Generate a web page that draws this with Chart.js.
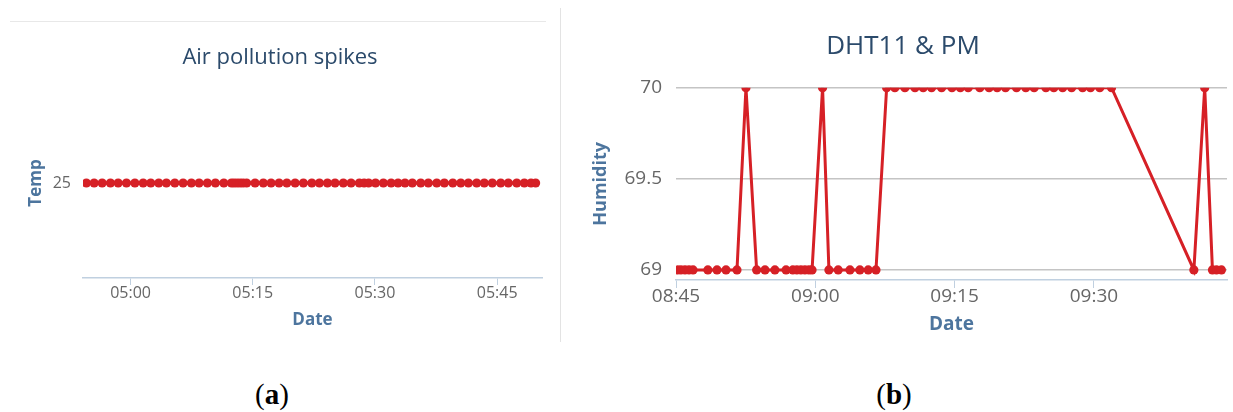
<!DOCTYPE html>
<html lang="en">
<head>
    <meta charset="UTF-8">
    <title>Air pollution spikes / DHT11 &amp; PM</title>
    <script src="https://cdn.jsdelivr.net/npm/chart.js"></script>
    <style>
        body {
            margin: 0;
            background: #fff;
            font-family: 'Open Sans', sans-serif;
        }
        .page {
            position: relative;
            width: 1233px;
            height: 412px;
            overflow: hidden;
        }
        #tempChart { position: absolute; left: 0; top: 0; }
        #humChart { position: absolute; left: 565px; top: 0; }
        .topline {
            position: absolute;
            left: 10px; top: 21px;
            width: 536px; height: 1px;
            background: #e8e8e8;
        }
        .divider {
            position: absolute;
            left: 560px; top: 8px;
            width: 1px; height: 334px;
            background: #e3e3e3;
        }
        .caption {
            position: absolute;
            top: 377px;
            width: 80px;
            margin-left: -40px;
            text-align: center;
            font-family: 'Liberation Serif', serif;
            font-size: 29px;
            line-height: 34px;
            color: #000;
        }
    </style>
</head>
<body>
<div class="page">
    <div class="topline"></div>
    <div class="divider"></div>
    <canvas id="tempChart" width="560" height="350"></canvas>
    <canvas id="humChart" width="668" height="350"></canvas>
    <div class="caption" style="left:272px">(<b>a</b>)</div>
    <div class="caption" style="left:894px">(<b>b</b>)</div>
</div>

<script>
    // (a) temperature readings, all at 25
    const tempTimes = ['04:54:35', '04:55:32', '04:56:31', '04:57:32', '04:58:29', '04:59:30', '05:00:32', '05:01:33',
        '05:02:29', '05:03:28', '05:04:24', '05:05:26', '05:06:27', '05:07:28', '05:08:25', '05:09:26', '05:10:25',
        '05:11:27', '05:12:23', '05:12:43', '05:13:05', '05:13:27', '05:13:49', '05:14:15', '05:15:17', '05:16:18',
        '05:17:15', '05:18:14', '05:19:11', '05:20:12', '05:21:13', '05:22:15', '05:23:11', '05:24:10', '05:25:06',
        '05:26:07', '05:27:04', '05:28:05', '05:28:40', '05:29:13', '05:30:04', '05:31:02', '05:31:59', '05:32:50',
        '05:33:41', '05:34:35', '05:35:37', '05:36:33', '05:37:35', '05:38:31', '05:39:33', '05:40:32', '05:41:28',
        '05:42:29', '05:43:25', '05:44:24', '05:45:26', '05:46:22', '05:47:24', '05:48:20', '05:49:09', '05:49:43'];
    const tempValues = [25, 25, 25, 25, 25, 25, 25, 25, 25, 25, 25, 25, 25, 25, 25, 25, 25, 25, 25, 25, 25,
        25, 25, 25, 25, 25, 25, 25, 25, 25, 25, 25, 25, 25, 25, 25, 25, 25, 25, 25, 25, 25,
        25, 25, 25, 25, 25, 25, 25, 25, 25, 25, 25, 25, 25, 25, 25, 25, 25, 25, 25, 25];
    const tempXTicks = ['05:00', '05:15', '05:30', '05:45'];
    const tempXRange = ['04:54:10', '05:50:30'];
    const tempYTicks = [25];

    // (b) humidity readings
    const humTimes = ['08:45:10', '08:45:32', '08:45:58', '08:46:24', '08:46:50', '08:48:26', '08:49:25', '08:50:23',
        '08:51:34', '08:52:32', '08:53:41', '08:54:35', '08:55:39', '08:56:51', '08:57:35', '08:58:01', '08:58:27',
        '08:58:53', '08:59:19', '08:59:39', '09:00:47', '09:01:28', '09:02:28', '09:03:44', '09:04:48', '09:05:42',
        '09:06:32', '09:07:41', '09:08:34', '09:09:39', '09:10:44', '09:11:37', '09:12:31', '09:13:36', '09:14:43',
        '09:15:37', '09:16:28', '09:17:43', '09:18:43', '09:19:35', '09:20:29', '09:21:40', '09:22:40', '09:23:34',
        '09:24:50', '09:25:41', '09:26:38', '09:27:36', '09:28:47', '09:29:38', '09:30:38', '09:31:54', '09:40:46',
        '09:41:56', '09:42:46', '09:43:12', '09:43:44'];
    const humValues = [69, 69, 69, 69, 69, 69, 69, 69, 69, 70,
        69, 69, 69, 69, 69, 69, 69, 69, 69, 69, 70,
        69, 69, 69, 69, 69, 69,
        70, 70, 70, 70, 70, 70, 70, 70, 70, 70, 70, 70, 70, 70, 70, 70, 70, 70, 70, 70, 70, 70, 70, 70, 70,
        69, 70, 69, 69, 69];
    const humXTicks = ['08:45', '09:00', '09:15', '09:30'];
    const humXRange = ['08:45:00', '09:44:20'];
    const humYTicks = [69, 69.5, 70];

    const red = 'rgb(214, 32, 38)';
    const titleColor = '#2b4a6b';
    const axisTitleColor = '#4d759e';
    const tickColor = '#666666';
    const axisLineColor = '#c0d0e0';

    Chart.defaults.font.family = "'Open Sans', sans-serif";

    function toMin(t) {
        const p = t.split(':').map(Number);
        return p[0] * 60 + p[1] + (p[2] || 0) / 60;
    }
    function fmt(v) {
        const h = Math.floor(v / 60);
        const m = Math.round(v - h * 60);
        return String(h).padStart(2, '0') + ':' + String(m).padStart(2, '0');
    }
    function points(times, values) {
        return times.map((t, i) => ({ x: toMin(t), y: values[i] }));
    }
    function fixTicks(list) {
        return scale => { scale.ticks = list.map(v => ({ value: v })); };
    }

    const lineStyle = {
        borderColor: red,
        backgroundColor: red,
        borderWidth: 3,
        pointRadius: 4.6,
        pointBorderWidth: 0,
        pointBackgroundColor: red,
        tension: 0
    };

    new Chart(document.getElementById('tempChart'), {
        type: 'line',
        data: { datasets: [Object.assign({ label: 'Temp', data: points(tempTimes, tempValues) }, lineStyle)] },
        options: {
            responsive: false,
            animation: false,
            layout: { padding: { left: 18, right: 18, top: 0, bottom: 16 } },
            plugins: {
                legend: { display: false },
                tooltip: { enabled: false },
                title: {
                    display: true,
                    text: 'Air pollution spikes',
                    color: titleColor,
                    font: { size: 22, weight: 'normal', lineHeight: 1.2 },
                    padding: { top: 44.8, bottom: 16.8 }
                }
            },
            scales: {
                x: {
                    type: 'linear',
                    min: toMin(tempXRange[0]),
                    max: toMin(tempXRange[1]),
                    afterBuildTicks: fixTicks(tempXTicks.map(toMin)),
                    afterFit: s => { s.height = 56; },
                    grid: { drawOnChartArea: false, drawTicks: true, tickLength: 7, color: axisLineColor },
                    border: { color: axisLineColor, width: 1.5 },
                    ticks: { color: tickColor, padding: 0, font: { size: 16, lineHeight: 1 }, callback: v => fmt(v), maxRotation: 0 },
                    title: {
                        display: true, text: 'Date', color: axisTitleColor,
                        font: { size: 17, weight: 'bold', lineHeight: 1.2 },
                        padding: { top: 0, bottom: 3.2 }
                    }
                },
                y: {
                    min: 24,
                    max: 26,
                    afterBuildTicks: fixTicks(tempYTicks),
                    afterFit: s => { s.width = 65; },
                    grid: { display: false, drawTicks: false },
                    border: { display: false },
                    ticks: { color: tickColor, padding: 12, font: { size: 16 }, callback: v => String(v) },
                    title: {
                        display: true, text: 'Temp', color: axisTitleColor,
                        font: { size: 17, weight: 'bold', lineHeight: 1.2 },
                        padding: { top: 7.5, bottom: 0 }
                    }
                }
            }
        }
    });

    new Chart(document.getElementById('humChart'), {
        type: 'line',
        data: { datasets: [Object.assign({ label: 'Humidity', data: points(humTimes, humValues) }, lineStyle)] },
        options: {
            responsive: false,
            animation: false,
            layout: { padding: { left: 14, right: 6, top: 0, bottom: 10 } },
            plugins: {
                legend: { display: false },
                tooltip: { enabled: false },
                title: {
                    display: true,
                    text: 'DHT11 & PM',
                    color: titleColor,
                    font: { size: 26, weight: 'normal', lineHeight: 1.2 },
                    padding: { top: 31.1, bottom: 25.4 }
                }
            },
            scales: {
                x: {
                    type: 'linear',
                    min: toMin(humXRange[0]),
                    max: toMin(humXRange[1]),
                    afterBuildTicks: fixTicks(humXTicks.map(toMin)),
                    afterFit: s => { s.height = 60; },
                    grid: { drawOnChartArea: false, drawTicks: true, tickLength: 8, color: axisLineColor },
                    border: { color: axisLineColor, width: 1.5 },
                    ticks: { color: tickColor, padding: -1, font: { size: 19, lineHeight: 1 }, callback: v => fmt(v), maxRotation: 0 },
                    title: {
                        display: true, text: 'Date', color: axisTitleColor,
                        font: { size: 19, weight: 'bold', lineHeight: 1.2 },
                        padding: { top: 0, bottom: 3.6 }
                    }
                },
                y: {
                    min: 68.945,
                    max: 70,
                    afterBuildTicks: fixTicks(humYTicks),
                    afterFit: s => { s.width = 97; },
                    grid: { color: '#c4c4c4', lineWidth: 1.5, drawTicks: false },
                    border: { display: false },
                    ticks: { color: tickColor, padding: 14, font: { size: 19 }, callback: v => String(v) },
                    title: {
                        display: true, text: 'Humidity', color: axisTitleColor,
                        font: { size: 18, weight: 'bold', lineHeight: 1.2 },
                        padding: { top: 11, bottom: 0 }
                    }
                }
            }
        }
    });
</script>
</body>
</html>
